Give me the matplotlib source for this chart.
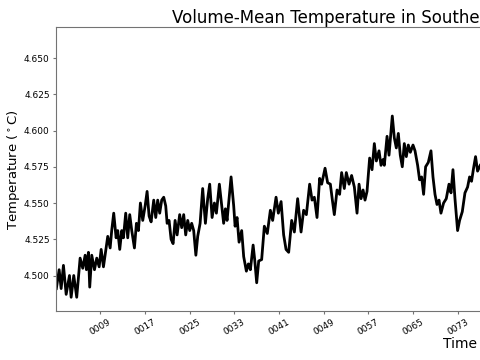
import numpy as np
from matplotlib import pyplot as plt
import matplotlib

matplotlib.rc('xtick', labelsize=6.5)
matplotlib.rc('ytick', labelsize=6.5)

# time in model years, volume-mean temperature in deg C
years = [1.10, 1.60, 1.96, 2.37, 2.86, 3.45, 3.75, 4.22, 4.75, 5.36,
         5.83, 6.26, 6.49, 6.85, 7.08, 7.44, 7.93, 8.34, 8.77, 9.13,
         9.54, 10.02, 10.31, 10.74, 11.02, 11.38, 11.81, 12.10, 12.46, 12.82,
         13.12, 13.53, 13.89, 14.25, 14.61, 15.09, 15.45, 15.81, 16.16, 16.58,
         17.01, 17.36, 17.72, 18.08, 18.55, 18.91, 19.26, 19.62, 19.98, 20.34,
         20.70, 20.95, 21.30, 21.66, 22.02, 22.38, 22.74, 23.20, 23.56, 23.92,
         24.28, 24.64, 25.00, 25.35, 25.71, 26.10, 26.43, 26.86, 27.32, 27.81,
         28.22, 28.58, 29.01, 29.42, 29.78, 30.31, 30.73, 31.08, 31.39, 31.69,
         32.41, 32.88, 33.13, 33.48, 33.84, 34.31, 34.67, 35.15, 35.51, 35.87,
         36.36, 36.64, 37.00, 37.36, 37.89, 38.37, 38.90, 39.45, 39.86, 40.47,
         40.88, 41.37, 41.83, 42.26, 42.73, 43.27, 43.75, 44.34, 44.95, 45.41,
         45.90, 46.49, 46.92, 47.33, 47.81, 48.28, 48.64, 49.25, 49.71, 50.20,
         50.56, 50.91, 51.40, 51.86, 52.22, 52.70, 53.06, 53.55, 54.01, 54.50,
         54.98, 55.34, 55.70, 56.06, 56.41, 56.77, 57.24, 57.67, 58.08, 58.44,
         58.92, 59.28, 59.64, 59.87, 60.36, 60.71, 61.30, 61.66, 62.02, 62.38,
         62.73, 63.09, 63.45, 63.81, 64.17, 64.53, 65.01, 65.37, 65.84, 66.19,
         66.55, 66.91, 67.27, 67.75, 68.23, 68.59, 68.95, 69.31, 69.67, 70.02,
         70.49, 70.97, 71.46, 71.82, 72.17, 72.53, 73.00, 73.36, 73.84, 74.32,
         74.79, 75.15, 75.50, 75.86, 76.22, 76.58, 77.06]
temps = [4.491, 4.504, 4.491, 4.507, 4.487, 4.500, 4.485, 4.500, 4.485, 4.512,
         4.505, 4.514, 4.504, 4.516, 4.492, 4.514, 4.504, 4.512, 4.506, 4.518,
         4.506, 4.519, 4.527, 4.519, 4.531, 4.543, 4.526, 4.531, 4.518, 4.531,
         4.526, 4.543, 4.526, 4.542, 4.531, 4.519, 4.536, 4.531, 4.550, 4.538,
         4.548, 4.558, 4.541, 4.537, 4.552, 4.540, 4.552, 4.543, 4.552, 4.554,
         4.548, 4.536, 4.538, 4.525, 4.522, 4.538, 4.528, 4.542, 4.533, 4.542,
         4.528, 4.538, 4.531, 4.536, 4.531, 4.514, 4.527, 4.536, 4.560, 4.536,
         4.553, 4.563, 4.540, 4.550, 4.543, 4.563, 4.548, 4.536, 4.546, 4.538,
         4.568, 4.548, 4.534, 4.540, 4.523, 4.531, 4.513, 4.503, 4.508, 4.504,
         4.521, 4.511, 4.495, 4.510, 4.511, 4.534, 4.529, 4.545, 4.538, 4.554,
         4.543, 4.551, 4.528, 4.518, 4.516, 4.538, 4.530, 4.553, 4.530, 4.545,
         4.542, 4.563, 4.552, 4.554, 4.540, 4.567, 4.563, 4.574, 4.564, 4.563,
         4.552, 4.542, 4.559, 4.556, 4.571, 4.560, 4.571, 4.563, 4.569, 4.561,
         4.543, 4.563, 4.553, 4.559, 4.552, 4.558, 4.581, 4.573, 4.591, 4.579,
         4.586, 4.576, 4.580, 4.576, 4.596, 4.583, 4.610, 4.595, 4.588, 4.598,
         4.583, 4.575, 4.591, 4.582, 4.590, 4.585, 4.590, 4.586, 4.576, 4.566,
         4.568, 4.556, 4.575, 4.578, 4.586, 4.568, 4.556, 4.549, 4.552, 4.543,
         4.550, 4.553, 4.563, 4.557, 4.573, 4.553, 4.531, 4.538, 4.544, 4.557,
         4.561, 4.568, 4.565, 4.574, 4.582, 4.572, 4.576]

tick_years = np.arange(9, 146, 8)
tick_labels = ['%04d' % y for y in tick_years]
y_ticks = [4.500, 4.525, 4.550, 4.575, 4.600, 4.625, 4.650]

fig = plt.figure(figsize=(4.8, 3.6), dpi=100)
# the axes runs past the right edge of the figure
ax = fig.add_axes([0.1167, 0.136, 1.683, 0.789])

ax.plot(years, temps, color='black', linewidth=2)

ax.set_xlim(1.04, 145.8)
ax.set_ylim(4.4755, 4.6714)
ax.set_xticks(tick_years)
ax.set_xticklabels(tick_labels, rotation=30)
ax.set_yticks(y_ticks)
ax.set_yticklabels(['%.3f' % v for v in y_ticks])
ax.tick_params(length=2.5, pad=2, color='0.45')

for sp in ax.spines.values():
    sp.set_color('0.45')

ax.set_xlabel('Time', fontsize=10, labelpad=0)
ax.set_ylabel(r'Temperature ($^\circ$C)', fontsize=9.5, labelpad=1.5)
ax.set_title('Volume-Mean Temperature in Southern Ocean', fontsize=12,
             loc='left', x=(172 - 56) / 808.0, pad=3)

plt.savefig('out.png', dpi=100)
plt.close()
